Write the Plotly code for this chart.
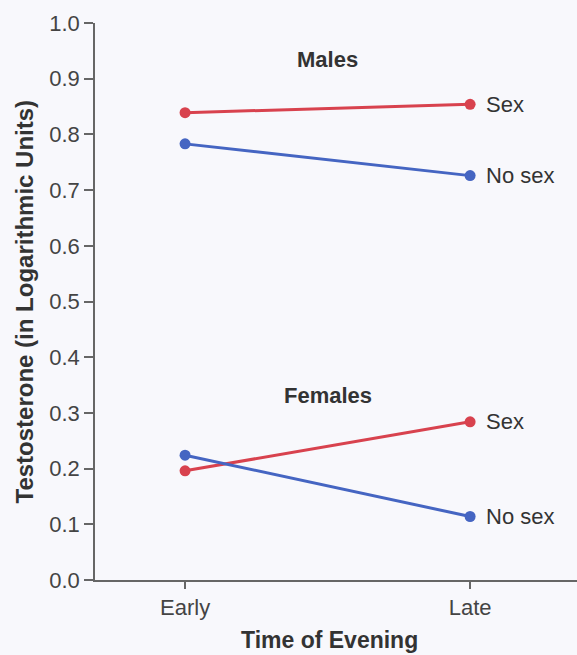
import plotly.graph_objects as go

times = ["Early", "Late"]
males_sex = [0.839, 0.854]
males_nosex = [0.783, 0.726]
females_sex = [0.196, 0.284]
females_nosex = [0.224, 0.114]
y_ticks = [0.0, 0.1, 0.2, 0.3, 0.4, 0.5, 0.6, 0.7, 0.8, 0.9, 1.0]

RED = "#d8424e"
BLUE = "#4565c2"
FONT = "Liberation Sans, Arial, sans-serif"
TXT = "#333333"
FS = 22

fig = go.Figure()
for ys, col in [(males_sex, RED), (males_nosex, BLUE), (females_sex, RED), (females_nosex, BLUE)]:
    fig.add_trace(go.Scatter(x=times, y=ys, mode="lines+markers",
                             line=dict(color=col, width=3),
                             marker=dict(color=col, size=11),
                             showlegend=False, hoverinfo="skip"))

# end labels
for ys, lab in [(males_sex, "Sex"), (males_nosex, "No sex"), (females_sex, "Sex"), (females_nosex, "No sex")]:
    fig.add_annotation(x=times[1], y=ys[1], text=lab, showarrow=False,
                       xanchor="left", yanchor="middle", xshift=14,
                       font=dict(family=FONT, size=FS, color=TXT))

fig.add_annotation(x=0.5, y=0.935, text="<b>Males</b>", showarrow=False,
                   xanchor="center", yanchor="middle",
                   font=dict(family=FONT, size=FS, color=TXT))
fig.add_annotation(x=0.5, y=0.331, text="<b>Females</b>", showarrow=False,
                   xanchor="center", yanchor="middle",
                   font=dict(family=FONT, size=FS, color=TXT))

W, H = 577, 655
L, R, T, B = 95, 0, 23, 75
pw = W - L - R
ph = H - T - B

fig.add_annotation(xref="paper", yref="paper", x=(24 - L) / pw, y=0.5,
                   text="<b>Testosterone (in Logarithmic Units)</b>", textangle=-90,
                   showarrow=False, xanchor="center", yanchor="middle",
                   font=dict(family=FONT, size=24, color=TXT))
fig.add_annotation(xref="paper", yref="paper", x=(329 - L) / pw, y=-(640 - (H - B)) / ph,
                   text="<b>Time of Evening</b>", showarrow=False,
                   xanchor="center", yanchor="middle",
                   font=dict(family=FONT, size=23, color=TXT))

fig.update_layout(
    width=W, height=H,
    margin=dict(l=L, r=R, t=T, b=B),
    paper_bgcolor="#f8f8fc", plot_bgcolor="#f8f8fc",
    font=dict(family=FONT, color="#444444"),
)
fig.update_xaxes(type="category", range=[-0.316, 1.375],
                 showline=True, linecolor="#666666", linewidth=1.5,
                 ticks="outside", ticklen=7, tickcolor="#666666", tickwidth=1.5,
                 showgrid=False, zeroline=False,
                 tickfont=dict(family=FONT, size=FS, color="#444444"))
fig.update_yaxes(range=[0, 1], tickvals=y_ticks,
                 ticktext=[f"{v:.1f}" for v in y_ticks],
                 showline=True, linecolor="#666666", linewidth=1.5,
                 ticks="outside", ticklen=9, tickcolor="#666666", tickwidth=1.5,
                 showgrid=False, zeroline=False,
                 tickfont=dict(family=FONT, size=FS, color="#444444"))

fig.write_html("out.html", config={"displayModeBar": False},
               post_script="document.body.style.margin='0';document.body.style.background='#f8f8fc';")
